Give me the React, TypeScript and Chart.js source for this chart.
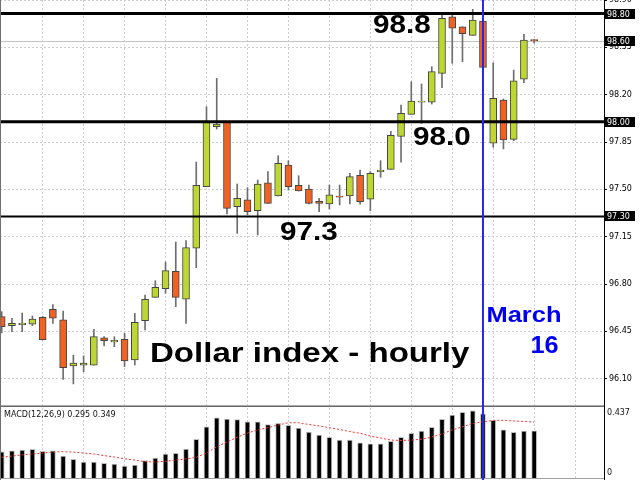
import React, { useEffect, useRef } from "react";
import { Chart, registerables } from "chart.js";

Chart.register(...registerables);

// ---------- data ----------
const OPEN = [96.559, 96.493, 96.5, 96.503, 96.555, 96.614, 96.535, 96.195, 96.2, 96.2, 96.402, 96.372, 96.392, 96.239, 96.529, 96.702, 96.766, 96.895, 96.688, 97.065, 97.52, 97.963, 97.996, 97.372, 97.422, 97.342, 97.549, 97.451, 97.68, 97.53, 97.503, 97.412, 97.392, 97.451, 97.451, 97.604, 97.427, 97.631, 97.648, 97.891, 98.055, 98.144, 98.144, 98.358, 98.776, 98.702, 98.639, 98.745, 97.841, 98.161, 97.87, 98.314, 98.608];
const HIGH = [96.596, 96.547, 96.586, 96.564, 96.561, 96.648, 96.601, 96.274, 96.269, 96.466, 96.411, 96.411, 96.436, 96.584, 96.719, 96.825, 96.963, 97.111, 97.121, 97.702, 98.111, 98.321, 97.998, 97.54, 97.513, 97.569, 97.631, 97.749, 97.712, 97.601, 97.532, 97.434, 97.532, 97.532, 97.619, 97.643, 97.632, 97.712, 97.929, 98.124, 98.296, 98.279, 98.407, 98.8, 98.789, 98.702, 98.831, 98.75, 98.436, 98.168, 98.382, 98.646, 98.608];
const LOW = [96.439, 96.448, 96.448, 96.493, 96.387, 96.51, 96.096, 96.062, 96.153, 96.2, 96.342, 96.337, 96.19, 96.202, 96.461, 96.702, 96.732, 96.633, 96.51, 96.921, 97.52, 97.946, 97.318, 97.175, 97.311, 97.163, 97.397, 97.451, 97.495, 97.488, 97.392, 97.335, 97.355, 97.385, 97.392, 97.39, 97.342, 97.589, 97.648, 97.702, 98.055, 97.988, 98.131, 98.252, 98.432, 98.444, 98.639, 98.402, 97.811, 97.799, 97.86, 98.289, 98.58];
const CLOSE = [96.485, 96.51, 96.512, 96.542, 96.389, 96.547, 96.182, 96.215, 96.215, 96.411, 96.382, 96.385, 96.232, 96.518, 96.688, 96.776, 96.899, 96.702, 97.069, 97.53, 97.996, 97.983, 97.36, 97.434, 97.335, 97.54, 97.397, 97.693, 97.52, 97.488, 97.397, 97.397, 97.459, 97.442, 97.594, 97.41, 97.619, 97.643, 97.9, 98.062, 98.153, 98.153, 98.37, 98.765, 98.691, 98.651, 98.752, 98.402, 98.173, 97.865, 98.303, 98.604, 98.599];

const MACD = [0.164, 0.17, 0.175, 0.179, 0.167, 0.17, 0.137, 0.117, 0.1, 0.1, 0.092, 0.087, 0.075, 0.081, 0.108, 0.125, 0.15, 0.154, 0.181, 0.242, 0.32, 0.376, 0.368, 0.364, 0.35, 0.35, 0.333, 0.341, 0.329, 0.312, 0.287, 0.268, 0.254, 0.237, 0.237, 0.219, 0.214, 0.214, 0.229, 0.254, 0.279, 0.293, 0.317, 0.366, 0.393, 0.41, 0.42, 0.401, 0.36, 0.3, 0.285, 0.293, 0.295];
const SIGNAL = [0.129, 0.137, 0.144, 0.15, 0.156, 0.162, 0.164, 0.162, 0.156, 0.15, 0.14, 0.131, 0.12, 0.112, 0.102, 0.1, 0.104, 0.112, 0.119, 0.129, 0.156, 0.195, 0.225, 0.254, 0.281, 0.3, 0.314, 0.331, 0.345, 0.345, 0.334, 0.325, 0.314, 0.303, 0.29, 0.279, 0.262, 0.25, 0.237, 0.234, 0.237, 0.242, 0.256, 0.275, 0.3, 0.32, 0.34, 0.351, 0.36, 0.36, 0.356, 0.353, 0.349];

const PRICE_TICKS = [96.1, 96.45, 96.8, 97.15, 97.5, 97.85, 98.2, 98.55, 98.9];
const GRID_BARS = [4, 8, 12, 16, 20, 24, 28, 32, 36, 40, 44, 48, 52, 56];
const LEVELS = [98.8, 98.0, 97.3];
const LEVEL_LABELS = ["98.8", "98.0", "97.3"];
const MARKED_PRICES = [98.8, 98.6, 98.0, 97.3];
const CURRENT_PRICE = 98.6;
const EVENT_BAR = 47;
const EVENT_LABELS = ["March", "16"];
const TITLE = "Dollar index - hourly";
const MACD_TITLE = "MACD(12,26,9) 0.295 0.349";
const MACD_TICKS = [0.437, 0];

// ---------- scale ranges ----------
const X_MIN = -0.166;
const X_MAX = 58.82;
const Y_MIN = 95.906;
const Y_MAX = 98.9;
const MACD_MAX = 0.437;

const GREEN = "#BDD632";
const RED = "#F06224";
const SMALL_FONT = '8px "DejaVu Sans"';

function stretchedText(ctx: CanvasRenderingContext2D, text: string, x: number, y: number, font: string, color: string, sx: number) {
  ctx.save();
  ctx.font = font;
  ctx.fillStyle = color;
  ctx.textBaseline = "alphabetic";
  ctx.textAlign = "left";
  ctx.translate(x, y);
  ctx.scale(sx, 1);
  ctx.fillText(text, 0, 0);
  ctx.restore();
}

const mainDecor = {
  id: "mainDecor",
  beforeDatasetsDraw(chart: any) {
    const { ctx, chartArea: a, scales } = chart;
    const y = scales.y;
    ctx.save();
    ctx.strokeStyle = "#C4C4C4";
    ctx.lineWidth = 1;
    const yc = Math.round(y.getPixelForValue(CURRENT_PRICE)) + 0.5;
    ctx.beginPath();
    ctx.moveTo(a.left, yc);
    ctx.lineTo(a.right, yc);
    ctx.stroke();
    ctx.restore();
  },
  afterDatasetsDraw(chart: any) {
    const { ctx, chartArea: a, scales } = chart;
    const x = scales.x;
    const y = scales.y;
    const widths = [3, 3, 2];
    ctx.save();
    ctx.strokeStyle = "#000";
    LEVELS.forEach((lv, i) => {
      const py = y.getPixelForValue(lv);
      ctx.lineWidth = widths[i];
      ctx.beginPath();
      ctx.moveTo(a.left, py);
      ctx.lineTo(a.right, py);
      ctx.stroke();
    });
    // event line
    const ex = x.getPixelForValue(EVENT_BAR);
    ctx.strokeStyle = "#2626E4";
    ctx.lineWidth = 2;
    ctx.beginPath();
    ctx.moveTo(ex, 0);
    ctx.lineTo(ex, chart.height);
    ctx.stroke();
    ctx.restore();

    // level annotations
    const lx = [373, 413, 280];
    const dy = [19.5, 23.5, 24];
    LEVEL_LABELS.forEach((t, i) => {
      stretchedText(ctx, t, lx[i], y.getPixelForValue(LEVELS[i]) + dy[i], 'bold 26px "Liberation Sans"', "#000", 1.14);
    });
    stretchedText(ctx, TITLE, 150, 361.5, 'bold 28px "Liberation Sans"', "#000", 1.18);
    stretchedText(ctx, EVENT_LABELS[0], ex + 3.5, 321.5, 'bold 22px "Liberation Sans"', "#0000F0", 1.157);
    stretchedText(ctx, EVENT_LABELS[1], ex + 47.5, 353, 'bold 23px "Liberation Sans"', "#0000F0", 1.1);
  },
  afterDraw(chart: any) {
    const { ctx, chartArea: a, scales } = chart;
    const y = scales.y;
    ctx.save();
    // left border
    ctx.strokeStyle = "#707070";
    ctx.lineWidth = 1;
    ctx.beginPath();
    ctx.moveTo(0.5, 0);
    ctx.lineTo(0.5, a.bottom);
    ctx.stroke();
    // price boxes
    ctx.font = SMALL_FONT;
    ctx.textBaseline = "middle";
    ctx.textAlign = "left";
    MARKED_PRICES.forEach((p) => {
      const py = Math.round(y.getPixelForValue(p));
      ctx.fillStyle = "#000";
      ctx.fillRect(a.right + 1, py - 5, 30, 10);
      ctx.fillStyle = "#fff";
      ctx.fillText(p.toFixed(2), a.right + 3, py + 0.5);
    });
    ctx.restore();
  },
};

const macdDecor = {
  id: "macdDecor",
  afterDraw(chart: any) {
    const { ctx, chartArea: a, scales } = chart;
    const x = scales.x;
    const y = scales.y;
    ctx.save();
    // separator and frame
    ctx.fillStyle = "#A8A8A8";
    ctx.fillRect(0, 0, a.right, 1);
    ctx.fillStyle = "#6A6A6A";
    ctx.fillRect(0, 1, a.right, 1);
    ctx.strokeStyle = "#A0A0A0";
    ctx.lineWidth = 1;
    ctx.beginPath();
    ctx.moveTo(0, a.bottom + 0.5);
    ctx.lineTo(a.right, a.bottom + 0.5);
    ctx.stroke();
    ctx.strokeStyle = "#707070";
    ctx.beginPath();
    ctx.moveTo(0.5, 0);
    ctx.lineTo(0.5, chart.height);
    ctx.stroke();
    ctx.strokeStyle = "#000";
    ctx.beginPath();
    ctx.moveTo(a.right + 0.5, 0);
    ctx.lineTo(a.right + 0.5, chart.height);
    ctx.stroke();
    // event line
    const ex = x.getPixelForValue(EVENT_BAR);
    ctx.strokeStyle = "#2626E4";
    ctx.lineWidth = 2;
    ctx.beginPath();
    ctx.moveTo(ex, 0);
    ctx.lineTo(ex, chart.height);
    ctx.stroke();
    // texts
    ctx.font = SMALL_FONT;
    ctx.fillStyle = "#111";
    ctx.textBaseline = "middle";
    ctx.textAlign = "left";
    ctx.fillText(MACD_TITLE, 4, 10);
    ctx.fillText(MACD_TICKS[0].toFixed(3), a.right + 3, y.getPixelForValue(MACD_TICKS[0]) + 5);
    ctx.fillText(String(MACD_TICKS[1]), a.right + 3, y.getPixelForValue(MACD_TICKS[1]) - 5);
    ctx.restore();
  },
};

const xScale = () => ({
  type: "linear",
  min: X_MIN,
  max: X_MAX,
  offset: false,
  afterBuildTicks: (s: any) => {
    s.ticks = GRID_BARS.map((v) => ({ value: v }));
  },
  afterFit: (s: any) => {
    s.height = 0;
    s.paddingLeft = 0;
    s.paddingRight = 0;
  },
  ticks: { display: false },
  grid: { color: "#CDCDCD", drawTicks: false, offset: false },
  border: { display: false, dash: [2, 2] },
});

export default function App() {
  const mainRef = useRef<HTMLCanvasElement>(null);
  const macdRef = useRef<HTMLCanvasElement>(null);

  useEffect(() => {
    const idx = OPEN.map((_, i) => i);
    const bodies = idx.map((i) => ({ x: i, y: [OPEN[i], CLOSE[i]] }));
    const wicks = idx.map((i) => ({ x: i, y: [LOW[i], HIGH[i]] }));
    const bodyColors = idx.map((i) => (CLOSE[i] >= OPEN[i] ? GREEN : RED));

    const main = new Chart(mainRef.current as HTMLCanvasElement, {
      type: "bar",
      data: {
        datasets: [
          {
            label: "body",
            data: bodies as any,
            backgroundColor: bodyColors,
            borderColor: "#444",
            borderWidth: 1,
            borderSkipped: false,
            barThickness: 7,
            grouped: false,
            order: 0,
          },
          {
            label: "wick",
            data: wicks as any,
            backgroundColor: "#6E6E6E",
            borderWidth: 0,
            barThickness: 1,
            grouped: false,
            order: 1,
          },
        ],
      },
      options: {
        responsive: false,
        animation: false,
        devicePixelRatio: 1,
        events: [],
        layout: { padding: 0 },
        plugins: { legend: { display: false }, tooltip: { enabled: false } },
        scales: {
          x: xScale() as any,
          y: {
            type: "linear",
            position: "right",
            min: Y_MIN,
            max: Y_MAX,
            afterBuildTicks: (s: any) => {
              s.ticks = PRICE_TICKS.map((v) => ({ value: v }));
            },
            afterFit: (s: any) => {
              s.width = 36;
              s.paddingTop = 0;
              s.paddingBottom = 0;
            },
            ticks: {
              font: { family: "DejaVu Sans", size: 8 },
              color: "#000",
              padding: 2,
              callback: (v: any) => Number(v).toFixed(2),
            },
            grid: { color: "#CDCDCD", tickColor: "#000", tickLength: 3 },
            border: { display: true, color: "#000", width: 1, dash: [2, 2] },
          } as any,
        },
      },
      plugins: [mainDecor],
    });

    const macd = new Chart(macdRef.current as HTMLCanvasElement, {
      type: "bar",
      data: {
        datasets: [
          {
            type: "line",
            label: "signal",
            data: idx.map((i) => ({ x: i, y: SIGNAL[i] })) as any,
            borderColor: "#FF3030",
            borderWidth: 1,
            borderDash: [2, 2],
            pointRadius: 0,
            tension: 0,
            order: 0,
          } as any,
          {
            type: "bar",
            label: "macd",
            data: idx.map((i) => ({ x: i, y: MACD[i] })) as any,
            backgroundColor: "#000",
            borderColor: "#BDBDBD",
            borderWidth: 1,
            barThickness: 5,
            order: 1,
          },
        ],
      },
      options: {
        responsive: false,
        animation: false,
        devicePixelRatio: 1,
        events: [],
        layout: { padding: { top: 3, bottom: 2, left: 0, right: 0 } },
        plugins: { legend: { display: false }, tooltip: { enabled: false } },
        scales: {
          x: xScale() as any,
          y: {
            type: "linear",
            position: "right",
            min: 0,
            max: MACD_MAX,
            afterFit: (s: any) => {
              s.width = 36;
              s.paddingTop = 0;
              s.paddingBottom = 0;
            },
            ticks: { display: false },
            grid: { display: false },
            border: { display: false },
          } as any,
        },
      },
      plugins: [macdDecor],
    });

    return () => {
      main.destroy();
      macd.destroy();
    };
  }, []);

  return (
    <div style={{ position: "fixed", left: 0, top: 0, width: 640, height: 480, background: "#fff" }}>
      <canvas ref={mainRef} width={640} height={405} style={{ position: "absolute", left: 0, top: 0, display: "block" }} />
      <canvas ref={macdRef} width={640} height={75} style={{ position: "absolute", left: 0, top: 405, display: "block" }} />
    </div>
  );
}
